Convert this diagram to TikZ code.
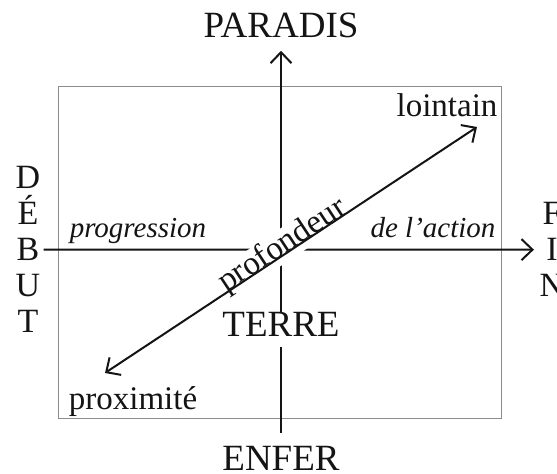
\documentclass[tikz,border=0pt]{standalone}
\usepackage{fontspec}
\setmainfont{Liberation Serif}
\usetikzlibrary{arrows.meta,calc}
\definecolor{ink}{HTML}{141414}
\definecolor{rule}{HTML}{8C8C8C}
\tikzset{
  realm/.style={font=\fontsize{18.5}{20}\selectfont,text=ink,inner sep=2pt,
                anchor=base},
  letter/.style={font=\fontsize{17}{18}\selectfont,text=ink,inner sep=2pt,
                 anchor=base},
  word/.style={font=\fontsize{16.5}{18}\selectfont,text=ink,inner sep=1pt},
  gloss/.style={font=\fontsize{14.5}{16}\selectfont\itshape,text=ink,
                inner sep=1pt,anchor=base},
  axis/.style={draw=ink,line width=1pt},
  axisarr/.style={axis,-{Straight Barb[length=5.5pt,width=10.5pt]}},
  botharr/.style={axis,{Straight Barb[length=5.5pt,width=10.5pt]}-{Straight Barb[length=5.5pt,width=10.5pt]}},
  frame/.style={draw=rule,line width=0.5pt}
}
\begin{document}
\begin{tikzpicture}[x=0.5pt,y=-0.5pt]
    \path[use as bounding box] (0,0) rectangle (557,474);
    \draw[frame] (58,87) rectangle (501,419);
    \node[realm] (paradis) at (281,38) {PARADIS};
    \node[realm] (terre) at (281,337) {TERRE};
    \node[realm] (enfer) at (281,470.5) {ENFER};
    \draw[axisarr,shorten <=-2.5pt,shorten >=4pt] (terre) -- (paradis);
    \draw[axis,shorten <=3pt,shorten >=4.5pt] (terre) -- (enfer);
    \foreach \ch [count=\i] in {D,É,B,U,T}
      \node[letter] (debut\i) at (28,{189+35.8*(\i-1)}) {\ch};
    \foreach \ch [count=\i] in {F,I,N}
      \node[letter] (fin\i) at (552,{225+35.8*(\i-1)}) {\ch};
    \draw[axisarr,shorten >=4pt] (debut3) -- (fin2);
    \node[gloss] (progress) at (138,238) {progression};
    \node[gloss] (action) at (433,238) {de l'action};
    \coordinate (near) at (105,373);
    \coordinate (far) at (477,127);
    \node[word,fill=white,rotate=33.5,anchor=base,inner sep=0.3pt] (depth)
      at ($(near)!0.49!(far)$) {profondeur};
    \draw[botharr] (near) -- (far);
    \node[word,anchor=base] (lointain) at (447,117) {lointain};
    \node[word,anchor=base] (proximite) at (133,410) {proximité};
  \end{tikzpicture}
\end{document}
